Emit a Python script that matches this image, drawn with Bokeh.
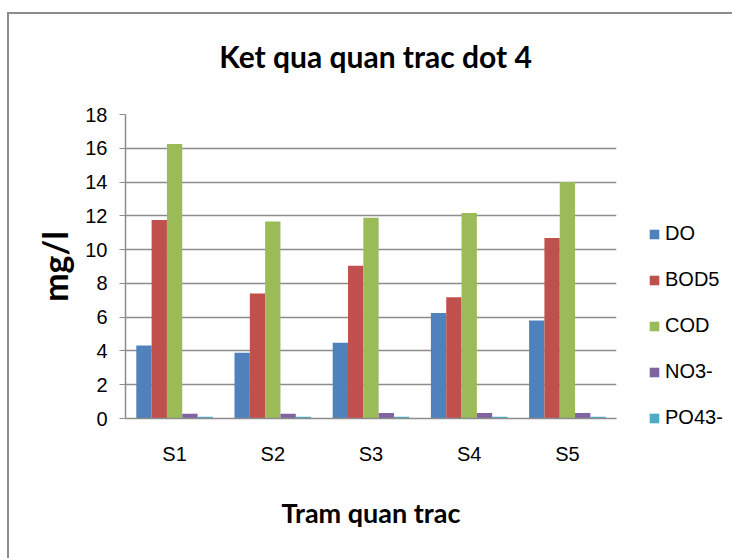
from bokeh.plotting import figure
from bokeh.layouts import column, row
from bokeh.models import ColumnDataSource, FactorRange, Legend, LegendItem, FixedTicker, Label, Range1d
from bokeh.transform import dodge
from bokeh.embed import file_html
from bokeh.resources import INLINE

# Monitoring results, round 4 (mg/l)
stations = ["S1", "S2", "S3", "S4", "S5"]
do_vals = [4.32, 3.89, 4.48, 6.25, 5.80]
bod5_vals = [11.76, 7.40, 9.05, 7.18, 10.69]
cod_vals = [16.25, 11.67, 11.89, 12.17, 14.00]
no3_vals = [0.28, 0.28, 0.32, 0.32, 0.32]
po4_vals = [0.10, 0.10, 0.10, 0.10, 0.10]
y_ticks = [0, 2, 4, 6, 8, 10, 12, 14, 16, 18]

series_names = ["DO", "BOD5", "COD", "NO3-", "PO43-"]
series_cols = ["do", "bod5", "cod", "no3", "po4"]
series_colors = ["#4F81BD", "#C0504D", "#9BBB59", "#8064A2", "#4BACC6"]

GRAY = "#8C8C8C"

source = ColumnDataSource(dict(
    station=stations, do=do_vals, bod5=bod5_vals, cod=cod_vals,
    no3=no3_vals, po4=po4_vals,
))


def bare(fig):
    fig.outline_line_color = None
    fig.grid.visible = False
    return fig


# --- title strip (its frame lines up with the bar chart's frame) ---
head = bare(figure(width=630, height=80, x_range=Range1d(0, 1), y_range=Range1d(0, 1),
                   x_axis_type=None, y_axis_type=None, min_border=0,
                   output_backend="svg", toolbar_location=None))
head.add_layout(Label(
    x=250, y=39, x_units="screen", y_units="screen",
    text="Ket qua quan trac dot 4", text_align="center", text_baseline="alphabetic",
    text_font="Lato", text_font_style="bold", text_font_size="30px", text_color="#000000",
))

# --- bar chart ---
p = figure(
    x_range=FactorRange(*stations, range_padding=0),
    y_range=(0, 18),
    width=630, height=464,
    min_border_left=116, min_border_right=23,
    min_border_top=20, min_border_bottom=140,
    output_backend="svg", toolbar_location=None,
)
p.outline_line_color = None
p.xgrid.grid_line_color = None
p.ygrid.grid_line_color = GRAY
p.ygrid.grid_line_width = 1.5

bar_w = 0.156
offsets = [-2 * bar_w, -bar_w, 0, bar_w, 2 * bar_w]
for col, color, off in zip(series_cols, series_colors, offsets):
    p.vbar(x=dodge("station", off, range=p.x_range), top=col, width=bar_w,
           source=source, fill_color=color, line_color=None)

p.yaxis.ticker = FixedTicker(ticks=y_ticks)
p.yaxis.axis_line_color = GRAY
p.yaxis.axis_line_width = 1.5
p.yaxis.major_tick_line_color = GRAY
p.yaxis.major_tick_out = 6
p.yaxis.major_tick_in = 0
p.yaxis.minor_tick_line_color = None
p.yaxis.major_label_standoff = 12
p.yaxis.major_label_text_font = "Liberation Sans"
p.yaxis.major_label_text_font_size = "20px"
p.yaxis.major_label_text_color = "#000000"
p.yaxis.axis_label = "mg/l"
p.yaxis.axis_label_text_font = "Lato"
p.yaxis.axis_label_text_font_style = "bold"
p.yaxis.axis_label_text_font_size = "34px"
p.yaxis.axis_label_text_color = "#000000"
p.yaxis.axis_label_standoff = 7

p.xaxis.axis_line_color = GRAY
p.xaxis.axis_line_width = 1.5
p.xaxis.major_tick_line_color = None
p.xaxis.minor_tick_line_color = None
p.xaxis.major_tick_out = 0
p.xaxis.major_label_standoff = 24
p.xaxis.major_label_text_font = "Liberation Sans"
p.xaxis.major_label_text_font_size = "20px"
p.xaxis.major_label_text_color = "#000000"
p.xaxis.axis_label = "Tram quan trac"
p.xaxis.axis_label_text_font = "Lato"
p.xaxis.axis_label_text_font_style = "bold"
p.xaxis.axis_label_text_font_size = "27px"
p.xaxis.axis_label_text_color = "#000000"
p.xaxis.axis_label_standoff = 28

# --- legend column (full height, swatch renderers sit outside its view) ---
side = bare(figure(width=93, height=544, x_range=Range1d(0, 1), y_range=Range1d(0, 1),
                   x_axis_type=None, y_axis_type=None, min_border=0,
                   output_backend="svg", toolbar_location=None))
swatches = [side.vbar(x=[5], top=[1], width=0.1, fill_color=c, line_color=None)
            for c in series_colors]
legend = Legend(
    items=[LegendItem(label=n, renderers=[r]) for n, r in zip(series_names, swatches)],
    location=(9, 129),
    glyph_width=12, glyph_height=12, label_standoff=5,
    label_height=20, spacing=23, padding=0, margin=0,
    label_text_font="Liberation Sans", label_text_font_size="20px",
    label_text_color="#000000",
    border_line_alpha=0, background_fill_alpha=0,
)
side.add_layout(legend, "center")

layout = row(column(head, p, spacing=0), side, spacing=0)
# chart area frame (top and left edges visible)
layout.styles = {
    "margin-left": "7px", "margin-top": "12px",
    "border-left": "2px solid " + GRAY, "border-top": "2px solid " + GRAY,
}

open("out.html", "w").write(file_html(layout, INLINE))
